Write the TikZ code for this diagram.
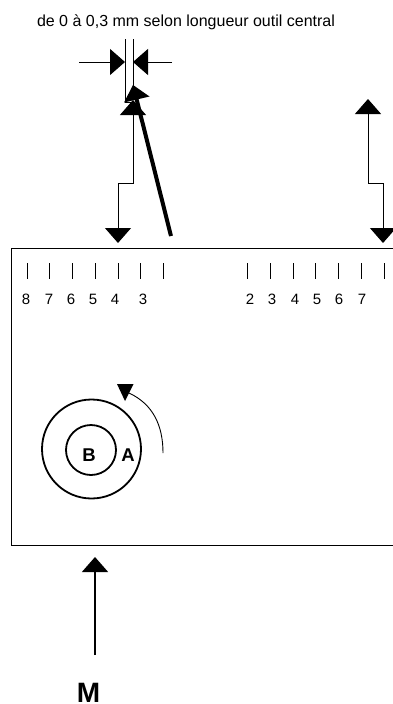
\documentclass[tikz,border=0pt]{standalone}
\usepackage{fontspec}
\setmainfont{Liberation Sans}
\usetikzlibrary{arrows.meta,calc}
\tikzset{
  px/.style={x=1pt,y=-1pt},
  conn/.style={draw=black,line width=1pt,line join=miter},
  headed/.style={conn,-{Triangle[length=15pt,width=26pt,sep=0pt]}},
  twohead/.style={conn,{Triangle[length=15pt,width=26pt]}-{Triangle[length=15pt,width=26pt]}},
  tick/.style={draw=black,line width=1pt},
  num/.style={font=\fontsize{15}{17}\selectfont,inner sep=0pt,text=black},
  bold/.style={font=\fontsize{18.5}{20}\selectfont\bfseries,inner sep=0pt},
  ring/.style={circle,draw=black,line width=1.8pt,inner sep=0pt}
}
\begin{document}
\begin{tikzpicture}[px]
\useasboundingbox (0,0) rectangle (393,704);
\clip (0,0) rectangle (393,704);
\fill[white] (0,0) rectangle (393,704);
\node[font=\fontsize{16}{18}\selectfont,inner sep=0pt] (title) at (186,22.5) {de 0 à 0,3 mm selon longueur outil central};
% plate
\draw[line width=1pt] (400,248) -- (11,248) -- (11,545) -- (400,545);
% gauge lines
\coordinate (gl1) at (125,39); \coordinate (gl2) at (125,102);
\coordinate (gr1) at (133,39); \coordinate (gr2) at (133,90);
\draw[conn] (gl1) -- (gl2) -- (133,102);
\draw[conn] (gr1) -- (gr2);
\coordinate (hl) at (79,62); \coordinate (hlt) at (125,62);
\coordinate (hr) at (172,62); \coordinate (hrt) at (133,62);
\draw[headed] (hl) -- (hlt);
\draw[headed] (hr) -- (hrt);
% left stepped double arrow
\coordinate (la) at (133,100); \coordinate (lb) at (118,243);
\draw[twohead] (la) -- (133,183) -- (118,183) -- (lb);
% thick arrow
\coordinate (ta) at (171,236); \coordinate (tb) at (133,85);
\draw[line width=4pt] (ta) -- ($(ta)!0.92!(tb)$);
\fill (133,85) -- (149.5,96.5) -- (124,102.5) -- cycle;
% right stepped double arrow
\coordinate (ra) at (368,99); \coordinate (rb) at (383,243);
\draw[twohead] (ra) -- (368,183) -- (383,183) -- (rb);
% ticks
\foreach \x in {27,49.5,72,95,118,140.5,163,247,270,293,315,338,361,384}
  \draw[tick] (\x,263) -- (\x,279);
% numbers
\foreach \x/\t in {26/8,49/7,71/6,93/5,115/4,143/3,250/2,272/3,295/4,317/5,339/6,362/7}
  \node[num] (n\x) at (\x,299) {\t};
% rings
\node[ring,minimum size=99pt] (outer) at (91.5,449) {};
\node[ring,minimum size=50pt] (inner) at (91,450) {};
\node[bold] (B) at (89,455) {B};
\node[bold] (A) at (128,455) {A};
% rotation arrow
\coordinate (c1) at (163,453); \coordinate (c2) at (129,393);
\draw[line width=0.9pt] (c1) to[out=90,in=-25] (c2);
\fill (117,384) -- (133.5,384) -- (125,401) -- cycle;
% M arrow
\node[font=\fontsize{28}{30}\selectfont\bfseries,inner sep=0pt,anchor=base] (M) at (88.5,702) {M};
\coordinate (ms) at (95,655); \coordinate (mt) at (95,557);
\draw[headed,line width=1.5pt] (ms) -- (mt);
\end{tikzpicture}
\end{document}
